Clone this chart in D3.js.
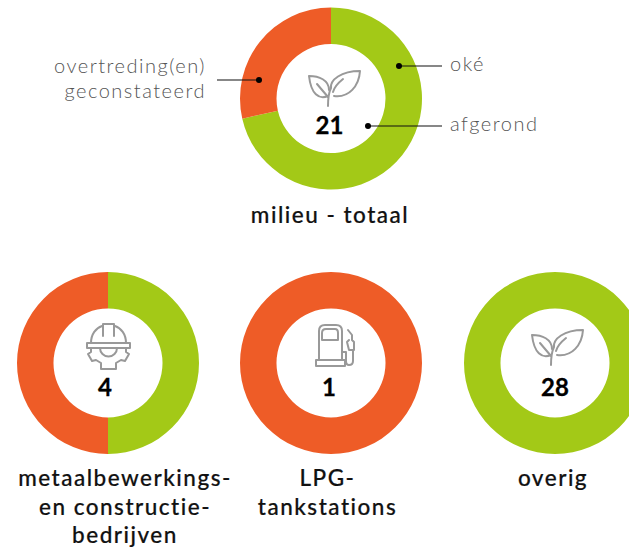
<!DOCTYPE html>
<html>
<head>
<meta charset="utf-8">
<script src="https://cdn.jsdelivr.net/npm/d3@7"></script>
<style>
  html, body { margin: 0; padding: 0; background: #fff; overflow: hidden; }
  text { font-family: Lato, "Open Sans", sans-serif; }
  .title { font-size: 22.5px; font-weight: 500; fill: #111; stroke: #111; stroke-width: 0.2; letter-spacing: 1.5px; text-anchor: middle; }
  .total { font-size: 24px; font-weight: 700; fill: #000; stroke: #000; stroke-width: 0.3; text-anchor: middle; }
  .note { font-size: 20px; font-weight: 300; fill: #555; letter-spacing: 1.5px; }
  .icon path { fill: none; stroke: #999; stroke-width: 2; stroke-linejoin: round; stroke-linecap: round; }
</style>
</head>
<body>
<svg id="chart" width="629" height="549"></svg>
<script>
// values per donut
const names = ['milieu', 'metaal', 'lpg', 'overig'];
const totals = [21, 4, 1, 28];
const oke = [15, 2, 0, 28];
const overtreding = [6, 2, 1, 0];
const titles = [
  ['milieu - totaal'],
  ['metaalbewerkings-', 'en constructie-', 'bedrijven'],
  ['LPG-', 'tankstations'],
  ['overig']
];

const green = '#a3c917';
const orange = '#ee5c27';

// the donuts sit on a fixed grid, the captions don't line up exactly with them
const cx = [331, 108, 331, 555];
const cy = [98.5, 363, 363, 363];
const titleX = [330, 125, 327.5, 553];
const titleY = [223, 486, 486, 486];
const totalX = [-1.5, -3, -2, 0];
const totalY = [35.5, 33, 33, 33];
const lineHeight = 28.5;

const svg = d3.select('#chart');
const arcGenerator = d3.arc().innerRadius(54.5).outerRadius(91);
const pie = d3.pie().sort(null).value(d => d.value);

// icons, drawn around the middle of the icon
const leaf = [
  'M-3,8 C-12,12 -20,6 -22,-12 C-12,-12 -2,-8 -2,2',
  'M-14,-4 L-3,9',
  'M-3,18 C-3,10 -2,4 0,0 C-1,-8 10,-17 29,-17 C28,-2 18,10 3,8',
  'M12,-9 C7,-5 3,0 2,4'
];
const helmet = [
  'M-21,-2 H22 V3 H-21 Z',
  'M-17,-2 C-17,-11 -12,-17 -6,-19',
  'M18,-2 C18,-11 13,-17 7,-19',
  'M-5,-9 V-21 H6 V-9',
  'M-8,3 A8.5,8.5 0 0 0 9,3',
  'M-17,3 V7 L-20,9 L-16,16 L-12,15 L-7,18 V24 H8 V18 L13,15 L17,16 L21,9 L18,7 V3'
];
const pump = [
  'M-12,15 V-14 Q-12,-20 -6,-20 H5 Q11,-20 11,-14 V15',
  'M-9,-5 V-12 Q-9,-16 -5,-16 H4 Q7,-16 7,-12 V-5 Z',
  'M-15,15 H14 V21 H-15 Z',
  'M11,7 H15 V16 Q15,20 18,20 Q22,20 22,16 V5',
  'M17,-15 L21,-10 V-5 L23,-3 V5 H18 L16,-3 L18,-5',
];
const icons = [leaf, helmet, pump, leaf];
const iconX = [0, 0, 0, -1];
const iconY = [-10.5, -18, -18, -16];

names.forEach((name, i) => {
  const g = svg.append('g').attr('class', name).attr('transform', `translate(${cx[i]},${cy[i]})`);

  // starts at 12 o'clock with oke, then overtreding
  const arcs = pie([{ value: oke[i], color: green }, { value: overtreding[i], color: orange }]);
  g.selectAll('path.slice')
    .data(arcs)
    .join('path')
    .attr('class', 'slice')
    .attr('d', arcGenerator)
    .attr('fill', d => d.data.color);

  g.append('g')
    .attr('class', 'icon')
    .attr('transform', `translate(${iconX[i]},${iconY[i]})`)
    .selectAll('path')
    .data(icons[i])
    .join('path')
    .attr('d', d => d);

  g.append('text')
    .attr('class', 'total')
    .attr('x', totalX[i])
    .attr('y', totalY[i])
    .text(totals[i]);

  titles[i].forEach((line, j) => {
    svg.append('text')
      .attr('class', 'title')
      .attr('x', titleX[i])
      .attr('y', titleY[i] + j * lineHeight)
      .text(line);
  });
});

// callouts on the first donut
const notes = [
  { lines: ['oké'], x: 450, y: 71, anchor: 'start', from: [399, 66], to: [442, 66] },
  { lines: ['afgerond'], x: 450, y: 131, anchor: 'start', from: [368, 126], to: [442, 126] },
  { lines: ['overtreding(en)', 'geconstateerd'], x: 206, y: 73, anchor: 'end', from: [259, 80], to: [217, 80] }
];

notes.forEach(n => {
  svg.append('line')
    .attr('x1', n.from[0]).attr('y1', n.from[1])
    .attr('x2', n.to[0]).attr('y2', n.to[1])
    .attr('stroke', '#111')
    .attr('stroke-width', 1.2);
  svg.append('circle')
    .attr('cx', n.from[0]).attr('cy', n.from[1])
    .attr('r', 3)
    .attr('fill', '#000');
  n.lines.forEach((line, j) => {
    svg.append('text')
      .attr('class', 'note')
      .attr('x', n.x)
      .attr('y', n.y + j * 25)
      .attr('text-anchor', n.anchor)
      .text(line);
  });
});
</script>
</body>
</html>
